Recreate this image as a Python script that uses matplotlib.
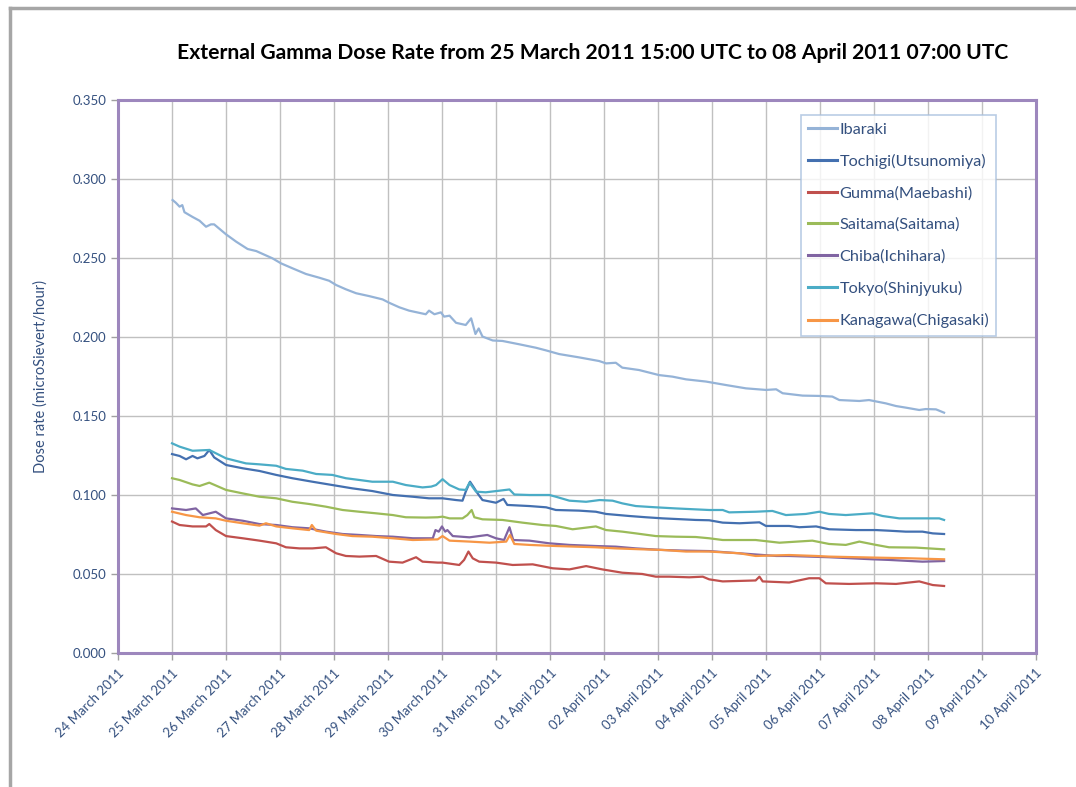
import matplotlib
matplotlib.use("Agg")
import matplotlib.pyplot as plt
import matplotlib.dates as mdates
from matplotlib.lines import Line2D
import pandas as pd

# Data: time in days since 24 March 2011 00:00, dose rate in microSievert/hour
ibaraki_t = [1.01, 1.07, 1.14, 1.19, 1.23, 1.38, 1.51, 1.63, 1.72, 1.78, 2.00, 2.19, 2.40, 2.56,
             2.86, 3.02, 3.23, 3.48, 3.73, 3.91, 4.04, 4.22, 4.41, 4.65, 4.90, 5.02, 5.21, 5.39,
             5.70, 5.76, 5.86, 5.98, 6.04, 6.14, 6.26, 6.44, 6.54, 6.62, 6.68, 6.75, 6.94, 7.12,
             7.43, 7.74, 7.93, 8.17, 8.54, 8.91, 9.04, 9.22, 9.34, 9.65, 10.02, 10.27, 10.52,
             10.89, 11.26, 11.63, 12.00, 12.19, 12.31, 12.68, 12.99, 13.23, 13.36, 13.73, 13.91,
             14.22, 14.41, 14.59, 14.84, 14.96, 15.15, 15.30]
ibaraki_v = [0.2867, 0.2850, 0.2825, 0.2835, 0.2790, 0.2760, 0.2736, 0.2698, 0.2713, 0.2713,
             0.2650, 0.2603, 0.2557, 0.2544, 0.2498, 0.2466, 0.2435, 0.2399, 0.2375, 0.2356,
             0.2329, 0.2302, 0.2277, 0.2259, 0.2238, 0.2217, 0.2188, 0.2167, 0.2144, 0.2167,
             0.2144, 0.2156, 0.2129, 0.2135, 0.2090, 0.2076, 0.2118, 0.2019, 0.2054, 0.2003,
             0.1978, 0.1975, 0.1954, 0.1932, 0.1915, 0.1892, 0.1871, 0.1848, 0.1833, 0.1837,
             0.1806, 0.1791, 0.1759, 0.1749, 0.1732, 0.1718, 0.1696, 0.1675, 0.1665, 0.1669,
             0.1644, 0.1629, 0.1627, 0.1623, 0.1601, 0.1595, 0.1601, 0.1580, 0.1563, 0.1553,
             0.1538, 0.1544, 0.1542, 0.1521]

tochigi_t = [1.00, 1.14, 1.26, 1.38, 1.47, 1.60, 1.69, 1.78, 2.00, 2.31, 2.62, 2.93, 3.23, 3.60,
             3.97, 4.34, 4.71, 5.09, 5.46, 5.76, 6.01, 6.26, 6.38, 6.44, 6.52, 6.58, 6.66, 6.75,
             7.00, 7.14, 7.21, 7.62, 7.93, 8.11, 8.54, 8.85, 9.04, 9.47, 9.78, 10.09, 10.46,
             10.70, 10.95, 11.20, 11.51, 11.88, 12.00, 12.43, 12.62, 12.93, 13.17, 13.67, 14.04,
             14.28, 14.59, 14.90, 15.09, 15.30]
tochigi_v = [0.1259, 0.1247, 0.1226, 0.1247, 0.1232, 0.1247, 0.1285, 0.1238, 0.1190, 0.1169,
             0.1152, 0.1127, 0.1106, 0.1084, 0.1063, 0.1042, 0.1025, 0.1000, 0.0989, 0.0979,
             0.0979, 0.0968, 0.0964, 0.1021, 0.1084, 0.1053, 0.1010, 0.0968, 0.0951, 0.0975,
             0.0937, 0.0930, 0.0922, 0.0905, 0.0901, 0.0894, 0.0880, 0.0867, 0.0859, 0.0852,
             0.0846, 0.0842, 0.0840, 0.0825, 0.0821, 0.0827, 0.0804, 0.0804, 0.0796, 0.0801,
             0.0783, 0.0778, 0.0778, 0.0774, 0.0768, 0.0768, 0.0757, 0.0753]

gumma_t = [1.00, 1.14, 1.38, 1.63, 1.69, 1.81, 2.00, 2.31, 2.62, 2.93, 3.11, 3.36, 3.60, 3.85,
           4.04, 4.22, 4.47, 4.78, 5.02, 5.27, 5.52, 5.64, 5.92, 6.01, 6.32, 6.41, 6.49, 6.57,
           6.69, 7.00, 7.31, 7.68, 8.05, 8.36, 8.67, 8.97, 9.34, 9.71, 9.96, 10.21, 10.58,
           10.83, 10.95, 11.20, 11.81, 11.88, 11.94, 12.43, 12.80, 12.99, 13.11, 13.54, 14.04,
           14.41, 14.84, 15.09, 15.30]
gumma_v = [0.0832, 0.0810, 0.0801, 0.0801, 0.0816, 0.0778, 0.0740, 0.0726, 0.0711, 0.0694,
           0.0669, 0.0662, 0.0662, 0.0669, 0.0631, 0.0614, 0.0610, 0.0614, 0.0578, 0.0572,
           0.0606, 0.0578, 0.0572, 0.0572, 0.0557, 0.0589, 0.0642, 0.0599, 0.0578, 0.0572,
           0.0557, 0.0561, 0.0536, 0.0529, 0.0550, 0.0529, 0.0508, 0.0500, 0.0483, 0.0483,
           0.0479, 0.0483, 0.0466, 0.0453, 0.0459, 0.0483, 0.0453, 0.0446, 0.0473, 0.0473,
           0.0441, 0.0437, 0.0441, 0.0437, 0.0453, 0.0430, 0.0424]

saitama_t = [1.00, 1.14, 1.38, 1.51, 1.69, 2.00, 2.31, 2.62, 2.93, 3.23, 3.54, 3.85, 4.16, 4.47,
             4.78, 5.09, 5.33, 5.70, 5.92, 6.01, 6.14, 6.38, 6.47, 6.55, 6.60, 6.75, 7.12, 7.49,
             7.86, 8.11, 8.42, 8.85, 9.04, 9.34, 9.59, 9.96, 10.33, 10.70, 10.95, 11.20, 11.81,
             12.25, 12.86, 13.17, 13.48, 13.73, 14.04, 14.28, 14.78, 15.30]
saitama_v = [0.1106, 0.1095, 0.1067, 0.1057, 0.1078, 0.1032, 0.1010, 0.0989, 0.0979, 0.0957,
             0.0943, 0.0926, 0.0905, 0.0894, 0.0884, 0.0873, 0.0859, 0.0857, 0.0859, 0.0863,
             0.0852, 0.0852, 0.0873, 0.0905, 0.0859, 0.0846, 0.0842, 0.0825, 0.0810, 0.0804,
             0.0783, 0.0801, 0.0778, 0.0768, 0.0757, 0.0740, 0.0736, 0.0734, 0.0726, 0.0715,
             0.0715, 0.0698, 0.0711, 0.0690, 0.0684, 0.0705, 0.0684, 0.0669, 0.0667, 0.0656]

chiba_t = [1.00, 1.26, 1.44, 1.57, 1.81, 2.00, 2.31, 2.62, 2.93, 3.23, 3.54, 3.85, 4.16, 4.47,
           4.78, 5.09, 5.46, 5.70, 5.83, 5.88, 5.94, 6.00, 6.06, 6.10, 6.20, 6.51, 6.84, 7.00,
           7.15, 7.25, 7.32, 7.62, 7.99, 8.36, 8.85, 9.22, 9.59, 10.09, 10.46, 10.95, 11.51,
           12.19, 12.43, 13.17, 13.97, 14.28, 14.90, 15.30]
chiba_v = [0.0915, 0.0905, 0.0915, 0.0873, 0.0894, 0.0852, 0.0837, 0.0816, 0.0810, 0.0796,
           0.0789, 0.0768, 0.0753, 0.0747, 0.0740, 0.0736, 0.0726, 0.0726, 0.0726, 0.0778,
           0.0768, 0.0801, 0.0768, 0.0778, 0.0740, 0.0732, 0.0747, 0.0726, 0.0715, 0.0796,
           0.0715, 0.0711, 0.0694, 0.0684, 0.0677, 0.0673, 0.0662, 0.0652, 0.0648, 0.0645,
           0.0631, 0.0614, 0.0614, 0.0606, 0.0593, 0.0589, 0.0578, 0.0582]

tokyo_t = [1.00, 1.14, 1.38, 1.69, 2.00, 2.37, 2.62, 2.93, 3.11, 3.42, 3.67, 3.97, 4.22, 4.47,
           4.71, 5.09, 5.33, 5.64, 5.80, 5.89, 6.01, 6.14, 6.32, 6.44, 6.51, 6.63, 6.81, 7.06,
           7.25, 7.34, 7.62, 7.99, 8.11, 8.36, 8.67, 8.92, 9.16, 9.34, 9.59, 9.96, 10.33,
           10.70, 10.95, 11.20, 11.32, 11.81, 12.12, 12.37, 12.74, 12.99, 13.17, 13.48, 13.97,
           14.16, 14.47, 14.90, 15.21, 15.30]
tokyo_v = [0.1327, 0.1306, 0.1280, 0.1285, 0.1232, 0.1200, 0.1194, 0.1185, 0.1165, 0.1154,
           0.1133, 0.1127, 0.1106, 0.1095, 0.1084, 0.1084, 0.1063, 0.1048, 0.1053, 0.1063,
           0.1100, 0.1063, 0.1035, 0.1032, 0.1078, 0.1021, 0.1017, 0.1027, 0.1035, 0.1003,
           0.1000, 0.1000, 0.0989, 0.0964, 0.0957, 0.0968, 0.0964, 0.0947, 0.0930, 0.0922,
           0.0915, 0.0909, 0.0905, 0.0905, 0.0890, 0.0894, 0.0899, 0.0873, 0.0880, 0.0894,
           0.0880, 0.0873, 0.0884, 0.0867, 0.0852, 0.0852, 0.0852, 0.0842]

kanagawa_t = [1.00, 1.26, 1.51, 1.81, 2.00, 2.31, 2.62, 2.74, 2.93, 3.23, 3.54, 3.59, 3.67, 4.04,
              4.34, 4.71, 5.09, 5.46, 5.92, 6.01, 6.14, 6.51, 6.88, 7.19, 7.26, 7.34, 7.62,
              8.11, 8.48, 8.85, 9.22, 9.71, 10.09, 10.52, 10.95, 11.51, 11.81, 12.43, 12.93,
              13.17, 13.97, 14.59, 15.30]
kanagawa_v = [0.0894, 0.0873, 0.0859, 0.0852, 0.0837, 0.0821, 0.0806, 0.0821, 0.0801, 0.0789,
              0.0778, 0.0810, 0.0774, 0.0753, 0.0740, 0.0736, 0.0726, 0.0715, 0.0719, 0.0740,
              0.0711, 0.0705, 0.0698, 0.0705, 0.0747, 0.0690, 0.0684, 0.0677, 0.0673, 0.0669,
              0.0662, 0.0656, 0.0652, 0.0642, 0.0642, 0.0631, 0.0614, 0.0620, 0.0614, 0.0610,
              0.0604, 0.0600, 0.0593]

series = [
    ("Ibaraki", ibaraki_t, ibaraki_v, "#95b3d7"),
    ("Tochigi(Utsunomiya)", tochigi_t, tochigi_v, "#4470b0"),
    ("Gumma(Maebashi)", gumma_t, gumma_v, "#c0504d"),
    ("Saitama(Saitama)", saitama_t, saitama_v, "#9bbb59"),
    ("Chiba(Ichihara)", chiba_t, chiba_v, "#8064a2"),
    ("Tokyo(Shinjyuku)", tokyo_t, tokyo_v, "#4bacc6"),
    ("Kanagawa(Chigasaki)", kanagawa_t, kanagawa_v, "#f79646"),
]

base = pd.Timestamp("2011-03-24")
plt.rcParams["font.family"] = ["Lato", "DejaVu Sans"]
label_color = "#34507f"

fig = plt.figure(figsize=(10.76, 7.87), dpi=100)
ax = fig.add_axes([0.1097, 0.1703, 0.8530, 0.7026])

for name, t, v, c in series:
    assert len(t) == len(v), name
    times = base + pd.to_timedelta(t, unit="D")
    ax.plot(times, v, color=c, lw=1.6, label=name, zorder=3)

ax.set_xlim(base, pd.Timestamp("2011-04-10"))
ax.set_ylim(0, 0.35)
ax.set_yticks([0.05 * i for i in range(8)])
ax.yaxis.set_major_formatter(plt.FuncFormatter(lambda y, _: f"{y:.3f}"))
ax.xaxis.set_major_locator(mdates.DayLocator())
ax.xaxis.set_major_formatter(mdates.DateFormatter("%d %B %Y"))

ax.grid(True, color="#c0c0c0", lw=1.0, zorder=0)
ax.tick_params(axis="both", colors="#a0a0a0", length=5, width=1, labelcolor=label_color)
ax.tick_params(axis="y", labelsize=9.5)
ax.tick_params(axis="x", labelsize=9.5, pad=5)
plt.setp(ax.get_xticklabels(), rotation=45, ha="right", rotation_mode="anchor")
for s in ax.spines.values():
    s.set_color("#9d87bd")
    s.set_linewidth(2.2)

ax.set_ylabel("Dose rate (microSievert/hour)", color=label_color, fontsize=10.5, labelpad=18)
fig.text(0.551, 0.933, "External Gamma Dose Rate from 25 March 2011 15:00 UTC to 08 April 2011 07:00 UTC",
         ha="center", va="center", fontsize=15.2, fontweight="bold", color="black")

handles = [Line2D([], [], color=c, lw=2.2) for _, _, _, c in series]
leg = ax.legend(handles, [s[0] for s in series], loc="upper right", bbox_to_anchor=(0.957, 0.973),
                borderaxespad=0, fontsize=11.7, labelspacing=1.06, handlelength=1.75, handletextpad=0.15,
                frameon=True, fancybox=False, borderpad=0.45, labelcolor=label_color)
leg.get_frame().set_edgecolor("#a8c0de")
leg.get_frame().set_linewidth(1.2)

# outer chart frame (top and left edges visible)
fig.add_artist(Line2D([0.009, 0.009], [0, 0.99], transform=fig.transFigure, color="#a6a6a6", lw=2.5))
fig.add_artist(Line2D([0.009, 1.0], [0.99, 0.99], transform=fig.transFigure, color="#a6a6a6", lw=2.5))

fig.savefig("out.png", dpi=100)
